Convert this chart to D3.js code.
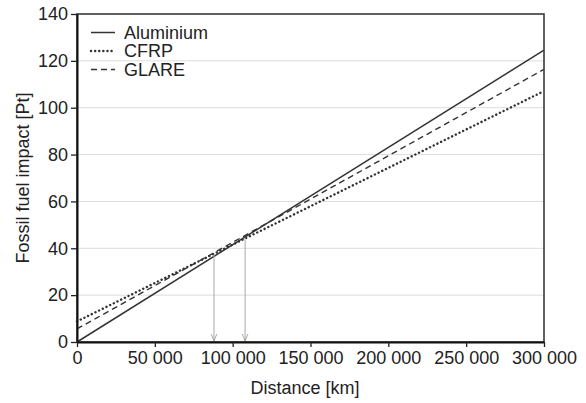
<!DOCTYPE html>
<html><head><meta charset="utf-8">
<script src="https://cdn.jsdelivr.net/npm/d3@7"></script>
<style>
body{margin:0;background:#fff;}
text{font-family:"Liberation Sans",Arial,sans-serif;fill:#222;}
</style></head>
<body><svg id="c" width="586" height="403"></svg>
<script>
const distances = [0, 300000];
const aluminium = [0, 124.6];
const cfrp = [8.8, 107.1];
const glare = [5.6, 116.4];
const seriesNames = ["Aluminium", "CFRP", "GLARE"];
const xTicks = [0, 50000, 100000, 150000, 200000, 250000, 300000];
const yTicks = [0, 20, 40, 60, 80, 100, 120, 140];
const arrowX = [88000, 108000];
const arrowTop = [37.3, 44.5];

const svg = d3.select("#c");
const m = {l:77, r:544, t:14, b:342};
const x = d3.scaleLinear().domain([0,300000]).range([m.l,m.r]);
const y = d3.scaleLinear().domain([0,140]).range([m.b,m.t]);
const fmt = d => d3.format(",")(d).replace(/,/g," ");

// grid
svg.append("g").selectAll("line").data(yTicks.filter(d=>d>0&&d<140)).join("line")
  .attr("x1",m.l).attr("x2",m.r).attr("y1",d=>y(d)).attr("y2",d=>y(d))
  .attr("stroke","#dcdcdc").attr("stroke-width",1);

// series
const styles = [
  {vals:aluminium, dash:null, w:1.5, cap:"butt"},
  {vals:cfrp, dash:"0.1 4", w:2.4, cap:"round"},
  {vals:glare, dash:"6 4", w:1.4, cap:"butt"}
];
const line = d3.line().x(d=>x(d[0])).y(d=>y(d[1]));
styles.forEach(s=>{
  svg.append("path").datum(distances.map((d,i)=>[d,s.vals[i]]))
    .attr("d",line).attr("fill","none").attr("stroke","#333")
    .attr("stroke-width",s.w).attr("stroke-dasharray",s.dash).attr("stroke-linecap",s.cap);
});

// arrows
const defs = svg.append("defs");
defs.append("marker").attr("id","ah").attr("viewBox","0 0 10 10").attr("refX",10).attr("refY",5)
  .attr("markerWidth",7).attr("markerHeight",7).attr("markerUnits","userSpaceOnUse").attr("orient","auto")
  .append("path").attr("d","M0,1 L10,5 L0,9").attr("fill","none").attr("stroke","#999").attr("stroke-width",1.2);
svg.append("g").selectAll("line").data(arrowX).join("line")
  .attr("x1",d=>x(d)).attr("x2",d=>x(d))
  .attr("y1",(d,i)=>y(arrowTop[i])).attr("y2",y(0)-1)
  .attr("stroke","#a8a8a8").attr("stroke-width",1).attr("marker-end","url(#ah)");

// frame
svg.append("rect").attr("x",m.l).attr("y",m.t).attr("width",m.r-m.l).attr("height",m.b-m.t)
  .attr("fill","none").attr("stroke","#3a3a3a").attr("stroke-width",1.6);

// axes
const xa = svg.append("g").attr("transform",`translate(0,${m.b})`)
  .call(d3.axisBottom(x).tickValues(xTicks).tickFormat(fmt).tickSize(5).tickSizeOuter(0));
const ya = svg.append("g").attr("transform",`translate(${m.l},0)`)
  .call(d3.axisLeft(y).tickValues(yTicks).tickSize(6).tickSizeOuter(0));
[xa,ya].forEach(a=>{
  a.select(".domain").attr("stroke","#111").attr("stroke-width",2);
  a.selectAll(".tick line").attr("stroke","#222").attr("stroke-width",1.3);
  a.selectAll("text").attr("font-size",18).attr("font-family","Liberation Sans, Arial, sans-serif").attr("fill","#222");
});
xa.selectAll("text").attr("y",9).attr("dy","0.71em");
ya.selectAll("text").attr("x",-9);

// titles
svg.append("text").attr("x",305).attr("y",394).attr("text-anchor","middle").attr("font-size",18).text("Distance [km]");
svg.append("text").attr("transform",`translate(29,${(m.t+m.b)/2}) rotate(-90)`).attr("text-anchor","middle")
  .attr("font-size",18).text("Fossil fuel impact [Pt]");

// legend
const lg = svg.append("g");
seriesNames.forEach((n,i)=>{
  const yy = 32.5 + i*18.5;
  const s = styles[i];
  lg.append("line").attr("x1",91).attr("x2",115).attr("y1",yy).attr("y2",yy)
    .attr("stroke","#333").attr("stroke-width",s.w).attr("stroke-dasharray",s.dash).attr("stroke-linecap",s.cap);
  lg.append("text").attr("x",124).attr("y",yy).attr("dy","0.36em").attr("font-size",18).text(n);
});
</script></body></html>
